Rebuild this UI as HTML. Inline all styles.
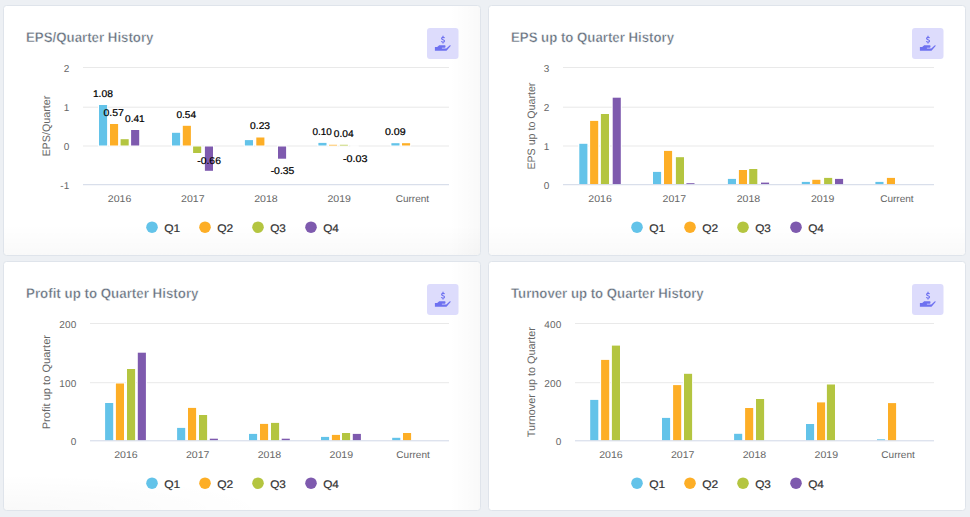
<!DOCTYPE html>
<html><head><meta charset="utf-8">
<style>
html,body{margin:0;padding:0;width:970px;height:517px;overflow:hidden;background:#edf0f4;}
.card{position:absolute;box-sizing:border-box;border:1px solid #dfe4eb;border-radius:3.5px;}
svg{position:absolute;left:0;top:0;}
text{font-family:"Liberation Sans",sans-serif;text-rendering:geometricPrecision;}
.title{font-size:13.9px;font-weight:bold;fill:#65707d;stroke:#fff;stroke-width:0.35px;}
.yl{font-size:10px;letter-spacing:0.2px;fill:#666666;}
.xl{font-size:9.8px;fill:#666666;}
.yt{font-size:10.8px;fill:#666666;}
.dlo{font-size:9.8px;fill:#fff;stroke:#fff;stroke-width:1.5px;}
.dl{font-size:9.8px;fill:#000;stroke:#000;stroke-width:0.22px;}
.lg{font-size:11px;font-weight:normal;fill:#333;stroke:#333;stroke-width:0.2px;}
</style></head><body>
<div class="card" style="left:3px;top:5px;width:478px;height:251px;background:linear-gradient(to bottom,rgba(0,0,0,0) calc(100% - 30px),rgba(0,0,0,0.022) 100%),linear-gradient(to right,rgba(0,0,0,0) calc(100% - 30px),rgba(0,0,0,0.022) 100%),#fff"></div><div class="card" style="left:488px;top:5px;width:478px;height:251px;background:linear-gradient(to bottom,rgba(0,0,0,0) calc(100% - 30px),rgba(0,0,0,0.022) 100%),#fff"></div><div class="card" style="left:3px;top:261px;width:478px;height:250px;background:radial-gradient(ellipse 270px 36px at 0% 100%,rgba(0,0,0,0.022),rgba(0,0,0,0)),linear-gradient(to right,rgba(0,0,0,0) calc(100% - 30px),rgba(0,0,0,0.022) 100%),#fff"></div><div class="card" style="left:488px;top:261px;width:478px;height:250px;background:#fff"></div>
<svg width="970" height="517" viewBox="0 0 970 517">
<text x="26.00" y="41.80" text-anchor="start" class="title"  textLength="127.50" lengthAdjust="spacingAndGlyphs">EPS/Quarter History</text>
<rect x="427" y="28" width="31.5" height="31" rx="3" fill="#dddcfc"/>
<g transform="translate(427,28)"><path d="M7.9,18.9 L10.2,18.9 L12.2,17.2 L17.6,17.2 C18.3,17.2 18.5,17.8 18.5,18.4 C18.5,19.1 18.1,19.7 17.5,19.7 L14.9,19.7 L14.9,20.6 L19.3,20.6 L22.6,17.5 C23.1,17.0 23.9,17.3 23.6,18.0 L19.5,22.7 L7.9,22.7 Z" fill="#6e71f0"/><path d="M17.5,10.1 C17.3,9.6 16.8,9.3 16.0,9.3 C15.2,9.3 14.6,9.8 14.6,10.5 C14.6,12.0 17.5,11.4 17.5,12.9 C17.5,13.6 16.9,14.1 16.0,14.1 C15.2,14.1 14.6,13.7 14.4,13.1 M16,7.8 V9.4 M16,14.0 V15.4" fill="none" stroke="#6e71f0" stroke-width="1.2"/></g>
<rect x="83" y="67.00" width="366" height="1" fill="#e9e9e9"/>
<text x="69.60" y="71.50" text-anchor="end" class="yl" >2</text>
<rect x="83" y="106.70" width="366" height="1" fill="#e9e9e9"/>
<text x="69.60" y="111.20" text-anchor="end" class="yl" >1</text>
<rect x="83" y="145.50" width="366" height="1" fill="#e9e9e9"/>
<text x="69.60" y="150.00" text-anchor="end" class="yl" >0</text>
<text x="69.60" y="188.70" text-anchor="end" class="yl" >-1</text>
<text x="0" y="0" transform="translate(49.6,126.10) rotate(-90)" text-anchor="middle" class="yt" textLength="61" lengthAdjust="spacingAndGlyphs">EPS/Quarter</text>
<rect x="99.00" y="105.00" width="8.1" height="40.50" fill="#63c3e9" stroke="#fff" stroke-width="2" paint-order="stroke"/>
<rect x="110.00" y="124.00" width="8.1" height="21.50" fill="#fdae26" stroke="#fff" stroke-width="2" paint-order="stroke"/>
<rect x="120.60" y="139.20" width="8.1" height="6.30" fill="#b4c540" stroke="#fff" stroke-width="2" paint-order="stroke"/>
<rect x="131.10" y="130.00" width="8.1" height="15.50" fill="#7e5aae" stroke="#fff" stroke-width="2" paint-order="stroke"/>
<rect x="172.00" y="132.80" width="8.1" height="12.70" fill="#63c3e9" stroke="#fff" stroke-width="2" paint-order="stroke"/>
<rect x="182.80" y="125.80" width="8.1" height="19.70" fill="#fdae26" stroke="#fff" stroke-width="2" paint-order="stroke"/>
<rect x="193.10" y="146.50" width="8.1" height="6.50" fill="#b4c540" stroke="#fff" stroke-width="2" paint-order="stroke"/>
<rect x="204.90" y="146.50" width="8.1" height="24.30" fill="#7e5aae" stroke="#fff" stroke-width="2" paint-order="stroke"/>
<rect x="244.90" y="140.10" width="8.1" height="5.40" fill="#63c3e9" stroke="#fff" stroke-width="2" paint-order="stroke"/>
<rect x="256.30" y="137.50" width="8.1" height="8.00" fill="#fdae26" stroke="#fff" stroke-width="2" paint-order="stroke"/>
<rect x="278.00" y="146.50" width="8.1" height="12.20" fill="#7e5aae" stroke="#fff" stroke-width="2" paint-order="stroke"/>
<rect x="318.40" y="142.90" width="8.1" height="2.60" fill="#63c3e9" stroke="#fff" stroke-width="2" paint-order="stroke"/>
<rect x="329.00" y="144.80" width="8.1" height="0.70" fill="#fdae26" stroke="#fff" stroke-width="2" paint-order="stroke"/>
<rect x="339.80" y="144.80" width="8.1" height="0.70" fill="#b4c540" stroke="#fff" stroke-width="2" paint-order="stroke"/>
<rect x="391.40" y="143.20" width="8.1" height="2.30" fill="#63c3e9" stroke="#fff" stroke-width="2" paint-order="stroke"/>
<rect x="402.00" y="143.20" width="8.1" height="2.30" fill="#fdae26" stroke="#fff" stroke-width="2" paint-order="stroke"/>
<rect x="83" y="184.20" width="366" height="1" fill="#d0d8e7"/>
<text x="119.60" y="201.90" text-anchor="middle" class="xl"  textLength="23.50" lengthAdjust="spacingAndGlyphs">2016</text>
<text x="192.80" y="201.90" text-anchor="middle" class="xl"  textLength="23.50" lengthAdjust="spacingAndGlyphs">2017</text>
<text x="266.00" y="201.90" text-anchor="middle" class="xl"  textLength="23.50" lengthAdjust="spacingAndGlyphs">2018</text>
<text x="339.20" y="201.90" text-anchor="middle" class="xl"  textLength="23.50" lengthAdjust="spacingAndGlyphs">2019</text>
<text x="412.40" y="201.90" text-anchor="middle" class="xl"  textLength="33.50" lengthAdjust="spacingAndGlyphs">Current</text>
<text x="102.90" y="97.30" text-anchor="middle" class="dl"  textLength="20.00" lengthAdjust="spacingAndGlyphs">1.08</text>
<text x="113.70" y="116.20" text-anchor="middle" class="dl"  textLength="20.40" lengthAdjust="spacingAndGlyphs">0.57</text>
<text x="134.85" y="122.30" text-anchor="middle" class="dl"  textLength="19.70" lengthAdjust="spacingAndGlyphs">0.41</text>
<text x="186.25" y="118.10" text-anchor="middle" class="dl"  textLength="19.70" lengthAdjust="spacingAndGlyphs">0.54</text>
<text x="209.10" y="164.30" text-anchor="middle" class="dl"  textLength="23.60" lengthAdjust="spacingAndGlyphs">-0.66</text>
<text x="260.10" y="128.60" text-anchor="middle" class="dl"  textLength="20.00" lengthAdjust="spacingAndGlyphs">0.23</text>
<text x="282.50" y="173.70" text-anchor="middle" class="dl"  textLength="23.70" lengthAdjust="spacingAndGlyphs">-0.35</text>
<text x="322.10" y="135.10" text-anchor="middle" class="dl"  textLength="19.30" lengthAdjust="spacingAndGlyphs">0.10</text>
<text x="343.70" y="137.00" text-anchor="middle" class="dl"  textLength="19.80" lengthAdjust="spacingAndGlyphs">0.04</text>
<text x="355.20" y="162.20" text-anchor="middle" class="dl"  textLength="24.50" lengthAdjust="spacingAndGlyphs">-0.03</text>
<text x="395.30" y="134.90" text-anchor="middle" class="dl"  textLength="20.70" lengthAdjust="spacingAndGlyphs">0.09</text>
<circle cx="152" cy="227.20" r="5.8" fill="#63c3e9"/>
<text x="164.20" y="231.50" text-anchor="start" class="lg"  textLength="16.00" lengthAdjust="spacingAndGlyphs">Q1</text>
<circle cx="205" cy="227.20" r="5.8" fill="#fdae26"/>
<text x="217.20" y="231.50" text-anchor="start" class="lg"  textLength="16.00" lengthAdjust="spacingAndGlyphs">Q2</text>
<circle cx="258" cy="227.20" r="5.8" fill="#b4c540"/>
<text x="270.20" y="231.50" text-anchor="start" class="lg"  textLength="15.70" lengthAdjust="spacingAndGlyphs">Q3</text>
<circle cx="311" cy="227.20" r="5.8" fill="#7e5aae"/>
<text x="323.20" y="231.50" text-anchor="start" class="lg"  textLength="15.70" lengthAdjust="spacingAndGlyphs">Q4</text>
<rect x="350.2" y="145.4" width="8.6" height="1.4" fill="#fff"/>
<text x="511.00" y="41.80" text-anchor="start" class="title"  textLength="163.00" lengthAdjust="spacingAndGlyphs">EPS up to Quarter History</text>
<rect x="912" y="28" width="31.5" height="31" rx="3" fill="#dddcfc"/>
<g transform="translate(912,28)"><path d="M7.9,18.9 L10.2,18.9 L12.2,17.2 L17.6,17.2 C18.3,17.2 18.5,17.8 18.5,18.4 C18.5,19.1 18.1,19.7 17.5,19.7 L14.9,19.7 L14.9,20.6 L19.3,20.6 L22.6,17.5 C23.1,17.0 23.9,17.3 23.6,18.0 L19.5,22.7 L7.9,22.7 Z" fill="#6e71f0"/><path d="M17.5,10.1 C17.3,9.6 16.8,9.3 16.0,9.3 C15.2,9.3 14.6,9.8 14.6,10.5 C14.6,12.0 17.5,11.4 17.5,12.9 C17.5,13.6 16.9,14.1 16.0,14.1 C15.2,14.1 14.6,13.7 14.4,13.1 M16,7.8 V9.4 M16,14.0 V15.4" fill="none" stroke="#6e71f0" stroke-width="1.2"/></g>
<rect x="563" y="67.00" width="371" height="1" fill="#e9e9e9"/>
<text x="549.60" y="71.50" text-anchor="end" class="yl" >3</text>
<rect x="563" y="106.70" width="371" height="1" fill="#e9e9e9"/>
<text x="549.60" y="111.20" text-anchor="end" class="yl" >2</text>
<rect x="563" y="145.50" width="371" height="1" fill="#e9e9e9"/>
<text x="549.60" y="150.00" text-anchor="end" class="yl" >1</text>
<text x="549.60" y="188.70" text-anchor="end" class="yl" >0</text>
<text x="0" y="0" transform="translate(534.6,126.10) rotate(-90)" text-anchor="middle" class="yt" textLength="87" lengthAdjust="spacingAndGlyphs">EPS up to Quarter</text>
<rect x="579.30" y="143.80" width="8.1" height="40.40" fill="#63c3e9" stroke="#fff" stroke-width="2" paint-order="stroke"/>
<rect x="590.10" y="120.90" width="8.1" height="63.30" fill="#fdae26" stroke="#fff" stroke-width="2" paint-order="stroke"/>
<rect x="600.90" y="114.00" width="8.1" height="70.20" fill="#b4c540" stroke="#fff" stroke-width="2" paint-order="stroke"/>
<rect x="612.70" y="97.70" width="8.1" height="86.50" fill="#7e5aae" stroke="#fff" stroke-width="2" paint-order="stroke"/>
<rect x="653.00" y="171.90" width="8.1" height="12.30" fill="#63c3e9" stroke="#fff" stroke-width="2" paint-order="stroke"/>
<rect x="664.00" y="150.90" width="8.1" height="33.30" fill="#fdae26" stroke="#fff" stroke-width="2" paint-order="stroke"/>
<rect x="675.90" y="157.20" width="8.1" height="27.00" fill="#b4c540" stroke="#fff" stroke-width="2" paint-order="stroke"/>
<rect x="686.40" y="183.20" width="8.1" height="1.00" fill="#7e5aae" stroke="#fff" stroke-width="2" paint-order="stroke"/>
<rect x="727.90" y="178.90" width="8.1" height="5.30" fill="#63c3e9" stroke="#fff" stroke-width="2" paint-order="stroke"/>
<rect x="738.90" y="170.00" width="8.1" height="14.20" fill="#fdae26" stroke="#fff" stroke-width="2" paint-order="stroke"/>
<rect x="749.20" y="169.00" width="8.1" height="15.20" fill="#b4c540" stroke="#fff" stroke-width="2" paint-order="stroke"/>
<rect x="761.00" y="182.60" width="8.1" height="1.60" fill="#7e5aae" stroke="#fff" stroke-width="2" paint-order="stroke"/>
<rect x="801.80" y="181.90" width="8.1" height="2.30" fill="#63c3e9" stroke="#fff" stroke-width="2" paint-order="stroke"/>
<rect x="812.30" y="179.80" width="8.1" height="4.40" fill="#fdae26" stroke="#fff" stroke-width="2" paint-order="stroke"/>
<rect x="824.10" y="177.90" width="8.1" height="6.30" fill="#b4c540" stroke="#fff" stroke-width="2" paint-order="stroke"/>
<rect x="835.00" y="178.90" width="8.1" height="5.30" fill="#7e5aae" stroke="#fff" stroke-width="2" paint-order="stroke"/>
<rect x="875.40" y="181.90" width="8.1" height="2.30" fill="#63c3e9" stroke="#fff" stroke-width="2" paint-order="stroke"/>
<rect x="886.90" y="177.90" width="8.1" height="6.30" fill="#fdae26" stroke="#fff" stroke-width="2" paint-order="stroke"/>
<rect x="563" y="184.20" width="371" height="1" fill="#d0d8e7"/>
<text x="600.10" y="201.90" text-anchor="middle" class="xl"  textLength="23.50" lengthAdjust="spacingAndGlyphs">2016</text>
<text x="674.30" y="201.90" text-anchor="middle" class="xl"  textLength="23.50" lengthAdjust="spacingAndGlyphs">2017</text>
<text x="748.50" y="201.90" text-anchor="middle" class="xl"  textLength="23.50" lengthAdjust="spacingAndGlyphs">2018</text>
<text x="822.70" y="201.90" text-anchor="middle" class="xl"  textLength="23.50" lengthAdjust="spacingAndGlyphs">2019</text>
<text x="896.90" y="201.90" text-anchor="middle" class="xl"  textLength="33.50" lengthAdjust="spacingAndGlyphs">Current</text>
<circle cx="637" cy="227.20" r="5.8" fill="#63c3e9"/>
<text x="649.20" y="231.50" text-anchor="start" class="lg"  textLength="16.00" lengthAdjust="spacingAndGlyphs">Q1</text>
<circle cx="690" cy="227.20" r="5.8" fill="#fdae26"/>
<text x="702.20" y="231.50" text-anchor="start" class="lg"  textLength="16.00" lengthAdjust="spacingAndGlyphs">Q2</text>
<circle cx="743" cy="227.20" r="5.8" fill="#b4c540"/>
<text x="755.20" y="231.50" text-anchor="start" class="lg"  textLength="15.70" lengthAdjust="spacingAndGlyphs">Q3</text>
<circle cx="796" cy="227.20" r="5.8" fill="#7e5aae"/>
<text x="808.20" y="231.50" text-anchor="start" class="lg"  textLength="15.70" lengthAdjust="spacingAndGlyphs">Q4</text>
<text x="26.00" y="297.80" text-anchor="start" class="title"  textLength="172.50" lengthAdjust="spacingAndGlyphs">Profit up to Quarter History</text>
<rect x="427" y="284" width="31.5" height="31" rx="3" fill="#dddcfc"/>
<g transform="translate(427,284)"><path d="M7.9,18.9 L10.2,18.9 L12.2,17.2 L17.6,17.2 C18.3,17.2 18.5,17.8 18.5,18.4 C18.5,19.1 18.1,19.7 17.5,19.7 L14.9,19.7 L14.9,20.6 L19.3,20.6 L22.6,17.5 C23.1,17.0 23.9,17.3 23.6,18.0 L19.5,22.7 L7.9,22.7 Z" fill="#6e71f0"/><path d="M17.5,10.1 C17.3,9.6 16.8,9.3 16.0,9.3 C15.2,9.3 14.6,9.8 14.6,10.5 C14.6,12.0 17.5,11.4 17.5,12.9 C17.5,13.6 16.9,14.1 16.0,14.1 C15.2,14.1 14.6,13.7 14.4,13.1 M16,7.8 V9.4 M16,14.0 V15.4" fill="none" stroke="#6e71f0" stroke-width="1.2"/></g>
<rect x="90" y="323.00" width="359" height="1" fill="#e9e9e9"/>
<text x="76.60" y="327.50" text-anchor="end" class="yl" >200</text>
<rect x="90" y="382.20" width="359" height="1" fill="#e9e9e9"/>
<text x="76.60" y="386.70" text-anchor="end" class="yl" >100</text>
<text x="76.60" y="444.80" text-anchor="end" class="yl" >0</text>
<text x="0" y="0" transform="translate(49.6,382.15) rotate(-90)" text-anchor="middle" class="yt" textLength="94.3" lengthAdjust="spacingAndGlyphs">Profit up to Quarter</text>
<rect x="105.10" y="403.00" width="8.1" height="37.30" fill="#63c3e9" stroke="#fff" stroke-width="2" paint-order="stroke"/>
<rect x="115.90" y="383.50" width="8.1" height="56.80" fill="#fdae26" stroke="#fff" stroke-width="2" paint-order="stroke"/>
<rect x="127.00" y="369.00" width="8.1" height="71.30" fill="#b4c540" stroke="#fff" stroke-width="2" paint-order="stroke"/>
<rect x="137.80" y="352.70" width="8.1" height="87.60" fill="#7e5aae" stroke="#fff" stroke-width="2" paint-order="stroke"/>
<rect x="177.10" y="427.90" width="8.1" height="12.40" fill="#63c3e9" stroke="#fff" stroke-width="2" paint-order="stroke"/>
<rect x="188.00" y="407.90" width="8.1" height="32.40" fill="#fdae26" stroke="#fff" stroke-width="2" paint-order="stroke"/>
<rect x="199.00" y="415.00" width="8.1" height="25.30" fill="#b4c540" stroke="#fff" stroke-width="2" paint-order="stroke"/>
<rect x="209.80" y="438.70" width="8.1" height="1.60" fill="#7e5aae" stroke="#fff" stroke-width="2" paint-order="stroke"/>
<rect x="249.00" y="433.90" width="8.1" height="6.40" fill="#63c3e9" stroke="#fff" stroke-width="2" paint-order="stroke"/>
<rect x="260.00" y="423.90" width="8.1" height="16.40" fill="#fdae26" stroke="#fff" stroke-width="2" paint-order="stroke"/>
<rect x="271.00" y="422.90" width="8.1" height="17.40" fill="#b4c540" stroke="#fff" stroke-width="2" paint-order="stroke"/>
<rect x="281.70" y="438.70" width="8.1" height="1.60" fill="#7e5aae" stroke="#fff" stroke-width="2" paint-order="stroke"/>
<rect x="321.00" y="436.90" width="8.1" height="3.40" fill="#63c3e9" stroke="#fff" stroke-width="2" paint-order="stroke"/>
<rect x="331.90" y="434.90" width="8.1" height="5.40" fill="#fdae26" stroke="#fff" stroke-width="2" paint-order="stroke"/>
<rect x="342.00" y="433.00" width="8.1" height="7.30" fill="#b4c540" stroke="#fff" stroke-width="2" paint-order="stroke"/>
<rect x="352.80" y="433.90" width="8.1" height="6.40" fill="#7e5aae" stroke="#fff" stroke-width="2" paint-order="stroke"/>
<rect x="392.20" y="437.80" width="8.1" height="2.50" fill="#63c3e9" stroke="#fff" stroke-width="2" paint-order="stroke"/>
<rect x="403.00" y="433.00" width="8.1" height="7.30" fill="#fdae26" stroke="#fff" stroke-width="2" paint-order="stroke"/>
<rect x="90" y="440.30" width="359" height="1" fill="#d0d8e7"/>
<text x="125.90" y="458.00" text-anchor="middle" class="xl"  textLength="23.50" lengthAdjust="spacingAndGlyphs">2016</text>
<text x="197.70" y="458.00" text-anchor="middle" class="xl"  textLength="23.50" lengthAdjust="spacingAndGlyphs">2017</text>
<text x="269.50" y="458.00" text-anchor="middle" class="xl"  textLength="23.50" lengthAdjust="spacingAndGlyphs">2018</text>
<text x="341.30" y="458.00" text-anchor="middle" class="xl"  textLength="23.50" lengthAdjust="spacingAndGlyphs">2019</text>
<text x="413.10" y="458.00" text-anchor="middle" class="xl"  textLength="33.50" lengthAdjust="spacingAndGlyphs">Current</text>
<circle cx="152" cy="483.20" r="5.8" fill="#63c3e9"/>
<text x="164.20" y="487.50" text-anchor="start" class="lg"  textLength="16.00" lengthAdjust="spacingAndGlyphs">Q1</text>
<circle cx="205" cy="483.20" r="5.8" fill="#fdae26"/>
<text x="217.20" y="487.50" text-anchor="start" class="lg"  textLength="16.00" lengthAdjust="spacingAndGlyphs">Q2</text>
<circle cx="258" cy="483.20" r="5.8" fill="#b4c540"/>
<text x="270.20" y="487.50" text-anchor="start" class="lg"  textLength="15.70" lengthAdjust="spacingAndGlyphs">Q3</text>
<circle cx="311" cy="483.20" r="5.8" fill="#7e5aae"/>
<text x="323.20" y="487.50" text-anchor="start" class="lg"  textLength="15.70" lengthAdjust="spacingAndGlyphs">Q4</text>
<text x="511.00" y="297.80" text-anchor="start" class="title"  textLength="192.70" lengthAdjust="spacingAndGlyphs">Turnover up to Quarter History</text>
<rect x="912" y="284" width="31.5" height="31" rx="3" fill="#dddcfc"/>
<g transform="translate(912,284)"><path d="M7.9,18.9 L10.2,18.9 L12.2,17.2 L17.6,17.2 C18.3,17.2 18.5,17.8 18.5,18.4 C18.5,19.1 18.1,19.7 17.5,19.7 L14.9,19.7 L14.9,20.6 L19.3,20.6 L22.6,17.5 C23.1,17.0 23.9,17.3 23.6,18.0 L19.5,22.7 L7.9,22.7 Z" fill="#6e71f0"/><path d="M17.5,10.1 C17.3,9.6 16.8,9.3 16.0,9.3 C15.2,9.3 14.6,9.8 14.6,10.5 C14.6,12.0 17.5,11.4 17.5,12.9 C17.5,13.6 16.9,14.1 16.0,14.1 C15.2,14.1 14.6,13.7 14.4,13.1 M16,7.8 V9.4 M16,14.0 V15.4" fill="none" stroke="#6e71f0" stroke-width="1.2"/></g>
<rect x="575" y="323.00" width="359" height="1" fill="#e9e9e9"/>
<text x="561.60" y="327.50" text-anchor="end" class="yl" >400</text>
<rect x="575" y="382.20" width="359" height="1" fill="#e9e9e9"/>
<text x="561.60" y="386.70" text-anchor="end" class="yl" >200</text>
<text x="561.60" y="444.80" text-anchor="end" class="yl" >0</text>
<text x="0" y="0" transform="translate(534.6,382.15) rotate(-90)" text-anchor="middle" class="yt" textLength="110.1" lengthAdjust="spacingAndGlyphs">Turnover up to Quarter</text>
<rect x="590.20" y="399.90" width="8.1" height="40.40" fill="#63c3e9" stroke="#fff" stroke-width="2" paint-order="stroke"/>
<rect x="601.10" y="359.90" width="8.1" height="80.40" fill="#fdae26" stroke="#fff" stroke-width="2" paint-order="stroke"/>
<rect x="611.90" y="345.60" width="8.1" height="94.70" fill="#b4c540" stroke="#fff" stroke-width="2" paint-order="stroke"/>
<rect x="662.00" y="417.90" width="8.1" height="22.40" fill="#63c3e9" stroke="#fff" stroke-width="2" paint-order="stroke"/>
<rect x="673.10" y="385.10" width="8.1" height="55.20" fill="#fdae26" stroke="#fff" stroke-width="2" paint-order="stroke"/>
<rect x="684.00" y="373.80" width="8.1" height="66.50" fill="#b4c540" stroke="#fff" stroke-width="2" paint-order="stroke"/>
<rect x="734.10" y="433.80" width="8.1" height="6.50" fill="#63c3e9" stroke="#fff" stroke-width="2" paint-order="stroke"/>
<rect x="745.10" y="408.00" width="8.1" height="32.30" fill="#fdae26" stroke="#fff" stroke-width="2" paint-order="stroke"/>
<rect x="756.00" y="399.00" width="8.1" height="41.30" fill="#b4c540" stroke="#fff" stroke-width="2" paint-order="stroke"/>
<rect x="806.00" y="424.00" width="8.1" height="16.30" fill="#63c3e9" stroke="#fff" stroke-width="2" paint-order="stroke"/>
<rect x="817.00" y="402.40" width="8.1" height="37.90" fill="#fdae26" stroke="#fff" stroke-width="2" paint-order="stroke"/>
<rect x="826.90" y="384.50" width="8.1" height="55.80" fill="#b4c540" stroke="#fff" stroke-width="2" paint-order="stroke"/>
<rect x="877.00" y="439.30" width="8.1" height="1.00" fill="#63c3e9" stroke="#fff" stroke-width="2" paint-order="stroke"/>
<rect x="888.00" y="403.10" width="8.1" height="37.20" fill="#fdae26" stroke="#fff" stroke-width="2" paint-order="stroke"/>
<rect x="575" y="440.30" width="359" height="1" fill="#d0d8e7"/>
<text x="610.90" y="458.00" text-anchor="middle" class="xl"  textLength="23.50" lengthAdjust="spacingAndGlyphs">2016</text>
<text x="682.70" y="458.00" text-anchor="middle" class="xl"  textLength="23.50" lengthAdjust="spacingAndGlyphs">2017</text>
<text x="754.50" y="458.00" text-anchor="middle" class="xl"  textLength="23.50" lengthAdjust="spacingAndGlyphs">2018</text>
<text x="826.30" y="458.00" text-anchor="middle" class="xl"  textLength="23.50" lengthAdjust="spacingAndGlyphs">2019</text>
<text x="898.10" y="458.00" text-anchor="middle" class="xl"  textLength="33.50" lengthAdjust="spacingAndGlyphs">Current</text>
<circle cx="637" cy="483.20" r="5.8" fill="#63c3e9"/>
<text x="649.20" y="487.50" text-anchor="start" class="lg"  textLength="16.00" lengthAdjust="spacingAndGlyphs">Q1</text>
<circle cx="690" cy="483.20" r="5.8" fill="#fdae26"/>
<text x="702.20" y="487.50" text-anchor="start" class="lg"  textLength="16.00" lengthAdjust="spacingAndGlyphs">Q2</text>
<circle cx="743" cy="483.20" r="5.8" fill="#b4c540"/>
<text x="755.20" y="487.50" text-anchor="start" class="lg"  textLength="15.70" lengthAdjust="spacingAndGlyphs">Q3</text>
<circle cx="796" cy="483.20" r="5.8" fill="#7e5aae"/>
<text x="808.20" y="487.50" text-anchor="start" class="lg"  textLength="15.70" lengthAdjust="spacingAndGlyphs">Q4</text>
</svg>
</body></html>
